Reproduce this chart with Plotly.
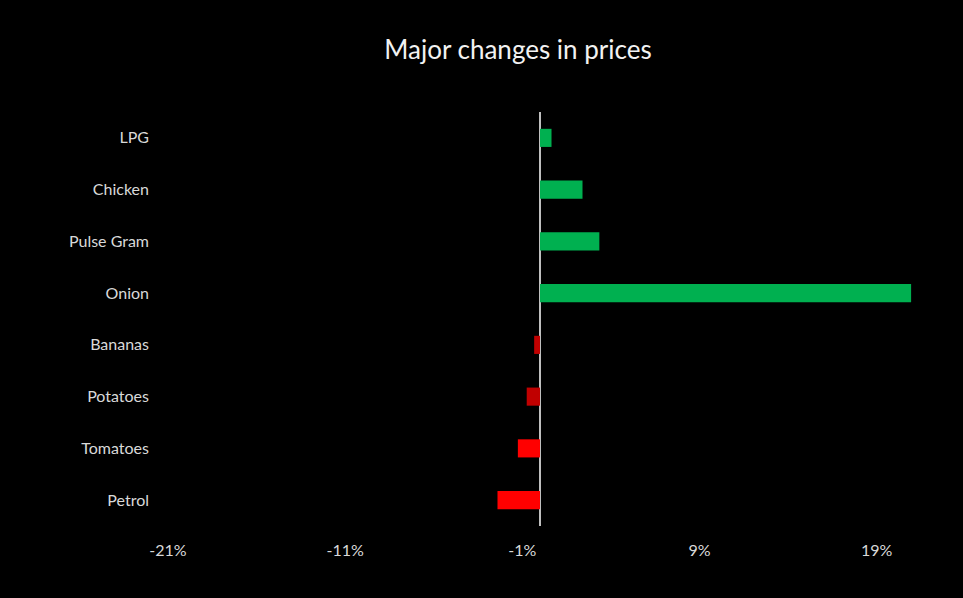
import plotly.graph_objects as go

items = ["LPG", "Chicken", "Pulse Gram", "Onion", "Bananas", "Potatoes", "Tomatoes", "Petrol"]
change_pct = [0.65, 2.4, 3.35, 20.95, -0.33, -0.75, -1.25, -2.4]
bar_colors = ["#00B050", "#00B050", "#00B050", "#00B050", "#C00000", "#C00000", "#FF0000", "#FF0000"]
x_ticks = [-21, -11, -1, 9, 19]
x_tick_labels = ["-21%", "-11%", "-1%", "9%", "19%"]


def main():
    fig = go.Figure(go.Bar(
        x=change_pct,
        y=items,
        orientation="h",
        marker=dict(color=bar_colors, line=dict(width=0)),
        hovertemplate="%{y}: %{x}%<extra></extra>",
    ))

    fig.update_layout(
        width=963, height=598,
        paper_bgcolor="black", plot_bgcolor="black",
        margin=dict(l=168, r=51, t=112, b=72),
        bargap=0.65,
        showlegend=False,
        font=dict(family="Lato, Open Sans, sans-serif", color="#d9d9d9", size=16),
        title=dict(text="Major changes in prices", x=518 / 963, xanchor="center",
                   y=1 - 50 / 598, yanchor="middle",
                   font=dict(size=26, color="#f2f2f2")),
    )
    fig.update_xaxes(
        range=[-21, 21], tickvals=x_ticks, ticktext=x_tick_labels,
        showgrid=False, zeroline=True, zerolinecolor="#bfbfbf", zerolinewidth=2,
        showline=False, ticks="", ticklabelstandoff=13,
    )
    fig.update_yaxes(
        autorange="reversed", showgrid=False, showline=False, ticks="",
        ticklabelstandoff=18,
    )
    # drop the page's default body margin so the chart sits at the window edge
    fig.write_html("out.html", config={"displayModeBar": False},
                   post_script="document.body.style.margin='0';document.body.style.background='black';")


if __name__ == "__main__":
    main()
